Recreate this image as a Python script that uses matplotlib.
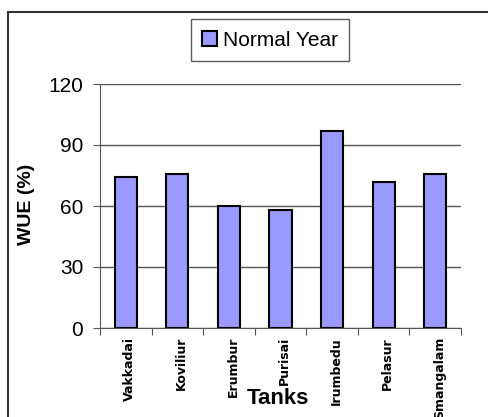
import matplotlib
matplotlib.use("Agg")
import matplotlib.pyplot as plt
from matplotlib.patches import Rectangle

# data
tanks = ["Vakkadai", "Koviliur", "Erumbur", "Purisai", "Irumbedu", "Pelasur", "Smangalam"]
wue_normal = [74.5, 75.5, 60, 58, 97, 72, 75.5]
yticks = [0, 30, 60, 90, 120]

plt.rcParams['font.family'] = ['Liberation Sans', 'DejaVu Sans']

fig = plt.figure(figsize=(4.89, 4.17), dpi=100)
ax = fig.add_axes([100/489, 1 - 328/417, 361/489, 244/417])

pos = list(range(len(tanks)))
ax.bar(pos, wue_normal, width=0.43, color="#9999FF", edgecolor="black",
       linewidth=1.5, label="Normal Year", zorder=3)

ax.set_xlim(-0.5, len(tanks) - 0.5)
ax.set_ylim(0, 120)
ax.set_yticks(yticks)
ax.set_yticklabels([str(v) for v in yticks], fontsize=15)
ax.yaxis.grid(True, color="#555555", linewidth=1)
ax.set_axisbelow(True)

# category labels, ticks sit on boundaries
ax.set_xticks([p + 0.5 for p in pos[:-1]] + [-0.5, len(tanks) - 0.5])
ax.set_xticklabels([])
ax.tick_params(axis="x", direction="out", length=5, color="#555555")
ax.tick_params(axis="y", direction="out", length=5, color="#555555", pad=7)
for p, name in zip(pos, tanks):
    ax.text(p + 0.08, -0.037, name, transform=ax.get_xaxis_transform(), rotation=90,
            ha="center", va="top", fontsize=9, fontweight="bold",
            family="DejaVu Sans")

for s in ["top", "right"]:
    ax.spines[s].set_visible(False)
ax.spines["left"].set_color("#555555")
ax.spines["bottom"].set_color("#555555")

fig.text(27/489, 1 - 204/417, "WUE (%)", ha="center", va="center",
         rotation=90, fontsize=14, fontweight="bold")
fig.text(278/489, 1 - 399/417, "Tanks", ha="center", va="center",
         fontsize=16, fontweight="bold")

leg = fig.legend(loc="center", bbox_to_anchor=(270/489, 1 - 40/417),
                 fontsize=15, frameon=True, fancybox=False, handlelength=0.7,
                 handleheight=0.7, handletextpad=0.3, borderpad=0.55)
leg.get_frame().set_edgecolor("#333333")
leg.get_frame().set_linewidth(1)

# outer chart border
fig.patches.append(Rectangle((8/489, -0.1), 1.2, (417 - 12)/417 + 0.1,
                             transform=fig.transFigure, fill=False,
                             edgecolor="#333333", linewidth=1.5))

fig.savefig("out.png", dpi=100)
